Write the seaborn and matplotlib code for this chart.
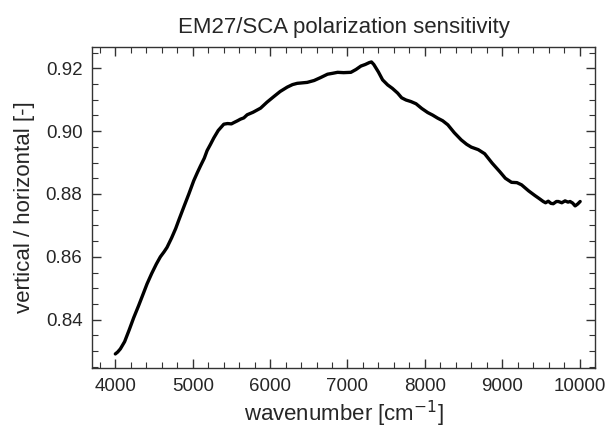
import numpy as np
import pandas as pd
import matplotlib
matplotlib.use("Agg")
import matplotlib.pyplot as plt
import seaborn as sns
from matplotlib.ticker import MultipleLocator

# values
wavenumber = [4000, 4030, 4065, 4120, 4180, 4237, 4300, 4360, 4410, 4470,
              4530, 4582, 4630, 4668, 4727, 4780, 4819, 4884, 4950, 5013,
              5060, 5100, 5150, 5186, 5230, 5272, 5330, 5402, 5450, 5500,
              5531, 5580, 5617, 5660, 5704, 5780, 5877, 5960, 6049, 6130,
              6222, 6290, 6351, 6396, 6480, 6569, 6650, 6742, 6810, 6872,
              6950, 7044, 7110, 7174, 7230, 7282, 7310, 7340, 7400, 7454,
              7519, 7580, 7648, 7700, 7756, 7820, 7886, 7960, 8037, 8100,
              8167, 8230, 8297, 8380, 8470, 8540, 8600, 8690, 8773, 8870,
              8968, 9040, 9120, 9190, 9250, 9340, 9422, 9480, 9530, 9560,
              9595, 9630, 9660, 9700, 9725, 9770, 9812, 9850, 9877, 9910,
              9942, 9975, 10007]
ratio = [0.8291, 0.8297, 0.8307, 0.8330, 0.8368, 0.8406, 0.8444, 0.8482, 0.8514, 0.8547,
         0.8577, 0.8600, 0.8616, 0.8630, 0.8660, 0.8690, 0.8716, 0.8758, 0.8800, 0.8842,
         0.8868, 0.8889, 0.8914, 0.8938, 0.8958, 0.8978, 0.9002, 0.9022, 0.9024, 0.9023,
         0.9027, 0.9033, 0.9038, 0.9042, 0.9052, 0.9060, 0.9073, 0.9092, 0.9110, 0.9126,
         0.9140, 0.9148, 0.9152, 0.9153, 0.9155, 0.9161, 0.9170, 0.9181, 0.9184, 0.9187,
         0.9186, 0.9187, 0.9196, 0.9207, 0.9212, 0.9218, 0.9220, 0.9212, 0.9188, 0.9163,
         0.9147, 0.9136, 0.9121, 0.9106, 0.9099, 0.9094, 0.9087, 0.9072, 0.9059, 0.9051,
         0.9041, 0.9033, 0.9020, 0.8995, 0.8972, 0.8958, 0.8949, 0.8941, 0.8928, 0.8898,
         0.8871, 0.8850, 0.8837, 0.8836, 0.8829, 0.8810, 0.8795, 0.8785, 0.8776, 0.8772,
         0.8777, 0.8770, 0.8769, 0.8776, 0.8776, 0.8772, 0.8778, 0.8774, 0.8776, 0.8771,
         0.8762, 0.8768, 0.8776]

df = pd.DataFrame({"wn": wavenumber, "ratio": ratio})

sns.set_style("ticks")
plt.rcParams["font.family"] = ["Liberation Sans", "DejaVu Sans"]
plt.rcParams["xtick.direction"] = "in"
plt.rcParams["ytick.direction"] = "in"

fig = plt.figure(figsize=(6.06, 4.30), dpi=100)
ax = fig.add_axes([0.152, 0.144, 0.830, 0.747])

sns.lineplot(data=df, x="wn", y="ratio", color="black", linewidth=2.4, ax=ax)

ax.set_xlim(3700, 10200)
ax.set_ylim(0.8246, 0.9268)
ax.xaxis.set_major_locator(MultipleLocator(1000))
ax.xaxis.set_minor_locator(MultipleLocator(200))
ax.yaxis.set_major_locator(MultipleLocator(0.02))
ax.yaxis.set_minor_locator(MultipleLocator(0.005))
ax.yaxis.set_major_formatter(matplotlib.ticker.FormatStrFormatter("%.2f"))
ax.tick_params(which="both", top=True, right=True, labelsize=13.5, color="#333333")
ax.tick_params(which="major", length=6.5, width=1, pad=7)
ax.tick_params(which="minor", length=4, width=0.8)
for s in ax.spines.values():
    s.set_color("#333333")
    s.set_linewidth(1)

ax.set_xlabel("wavenumber [cm$^{-1}$]", fontsize=16, labelpad=3)
ax.set_ylabel("vertical / horizontal [-]", fontsize=16, labelpad=8)
ax.set_title("EM27/SCA polarization sensitivity", fontsize=16, pad=10)

fig.savefig("out.png", dpi=100)
